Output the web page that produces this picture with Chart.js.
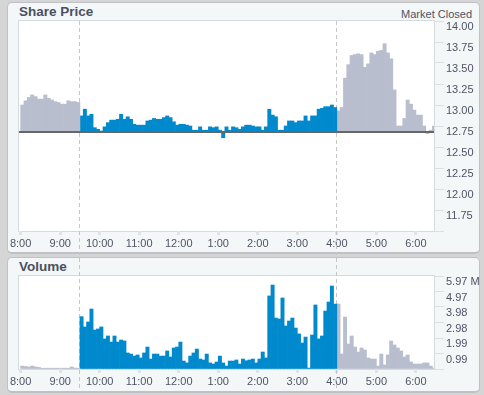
<!DOCTYPE html>
<html>
<head>
<meta charset="utf-8">
<script src="https://cdn.jsdelivr.net/npm/chart.js@4.4.1/dist/chart.umd.min.js"></script>
<style>
  body { margin: 0; width: 484px; height: 395px; overflow: hidden; background: #d5d5d5;
         font-family: "Liberation Sans", Arial, sans-serif; position: relative; }
  .panel { position: absolute; left: 7px; width: 473px; box-sizing: border-box;
           background: #f4f7f7; border: 1px solid #bec2c6; border-bottom-width: 2px; border-radius: 5px; }
  .title { position: absolute; left: 19px; font-weight: bold; font-size: 13.5px; line-height: 16px; color: #4a5064; }
  .status { position: absolute; right: 12px; top: 7px; font-size: 11px; line-height: 14px; color: #4d5366; }
  .box { position: absolute; left: 0; width: 484px; }
</style>
</head>
<body>
<div class="panel" style="top:2px;height:252px"></div>
<div class="panel" style="top:257px;height:136px"></div>
<div class="title" style="top:4px">Share Price</div>
<div class="status">Market Closed</div>
<div class="title" style="top:259px">Volume</div>
<div class="box" style="top:0;height:255px"><canvas id="price"></canvas></div>
<div class="box" style="top:255px;height:140px"><canvas id="volume"></canvas></div>
<script>
// 5 minute bars, 8:00 am to 6:25 pm (minutes after midnight)
const dayStart = 480;
const barMinutes = 5;
const prevClose = 12.68;
const sessionLines = [568, 958]; // open / close markers

const hourTicks = [480, 540, 600, 660, 720, 780, 840, 900, 960, 1020, 1080];
const hourLabels = ['8:00', '9:00', '10:00', '11:00', '12:00', '1:00', '2:00', '3:00', '4:00', '5:00', '6:00'];

const priceTicks = [14, 13.75, 13.5, 13.25, 13, 12.75, 12.5, 12.25, 12, 11.75, 11.5];
const priceLabels = ['14.00', '13.75', '13.50', '13.25', '13.00', '12.75', '12.50', '12.25', '12.00', '11.75', ''];

const volumeTicks = [5.97, 4.975, 3.98, 2.985, 1.99, 0.995, 0];
const volumeLabels = ['5.97 M', '4.97', '3.98', '2.98', '1.99', '0.99', ''];

// pre-market 8:00 - 9:25
const prePrice = [13.00, 13.05, 13.09, 13.12, 13.10, 13.07, 13.07, 13.12, 13.08, 13.06, 13.04, 13.03,
                  13.01, 13.01, 13.05, 13.04, 13.04, 13.03];
const preVolume = [0.19, 0.16, 0.13, 0.19, 0.13, 0.10, 0.05, 0.05, 0.05, 0.05, 0.05, 0.05,
                   0.05, 0.05, 0.05, 0.13, 0.06, 0.05];

// regular session 9:30 - 3:55
const sessionPrice = [
  12.87, 12.95, 12.87, 12.89, 12.73, 12.71, 12.69, 12.74, 12.79, 12.82, 12.82, 12.83,
  12.89, 12.83, 12.86, 12.83, 12.77, 12.76, 12.76, 12.76, 12.81, 12.82, 12.84, 12.83,
  12.83, 12.85, 12.87, 12.85, 12.80, 12.76, 12.77, 12.77, 12.76, 12.75, 12.70, 12.70,
  12.74, 12.70, 12.70, 12.74, 12.73, 12.74, 12.70, 12.61, 12.74, 12.70, 12.74, 12.73,
  12.71, 12.74, 12.76, 12.76, 12.75, 12.74, 12.74, 12.70, 12.74, 12.95, 12.88, 12.86,
  12.70, 12.70, 12.75, 12.81, 12.81, 12.79, 12.81, 12.81, 12.87, 12.81, 12.87, 12.87,
  12.95, 12.96, 12.98, 12.98, 13.00, 12.97];
const sessionVolume = [
  3.36, 2.70, 3.02, 3.85, 2.50, 2.57, 2.70, 1.93, 2.12, 1.73, 2.12, 1.73,
  1.86, 1.80, 1.03, 0.96, 0.83, 0.90, 0.71, 1.03, 1.41, 0.64, 0.96, 0.96,
  0.83, 0.83, 1.16, 0.77, 1.35, 1.41, 1.73, 0.51, 0.39, 0.83, 1.03, 1.28,
  0.64, 0.58, 0.96, 0.39, 0.32, 0.45, 0.83, 0.39, 0.19, 0.51, 0.51, 0.58,
  0.32, 0.64, 0.53, 0.58, 0.64, 0.39, 0.64, 1.09, 0.71, 4.69, 5.39, 3.27,
  3.21, 4.56, 2.76, 3.08, 3.27, 2.63, 2.25, 1.67, 2.05, 0.06, 2.18, 4.11,
  1.93, 2.12, 3.72, 4.30, 5.33, 4.17];

// after hours 4:00 - 6:25
const afterPrice = [12.93, 12.97, 13.32, 13.48, 13.59, 13.60, 13.61, 13.60, 13.45, 13.49, 13.62, 13.60,
                    13.64, 13.65, 13.73, 13.62, 13.55, 13.18, 12.75, 12.75, 12.84, 13.06, 13.01, 12.94,
                    12.88, 12.88, 12.75, 12.66, 12.70, 12.75];
const afterVolume = [4.17, 0.96, 3.34, 1.60, 2.12, 1.41, 1.09, 1.35, 1.22, 0.71, 0.64, 0.64,
                     0.19, 0.96, 0.26, 0.90, 1.80, 1.54, 1.35, 1.16, 0.77, 0.90, 0.45, 0.32,
                     0.32, 0.32, 0.39, 0.39, 0.19, 0.06];

const BLUE = '#0089cc';
const GRAY = '#b8bece';
const TEXT = '#4d5366';
const FONT = { family: "'Liberation Sans', Arial, sans-serif", size: 11 };
const xMin = 477.5, xMax = 1107.5;

// bar centre = slot start + half a slot
const toBars = (values, firstSlot, floating) => values.map((v, i) => ({
  x: dayStart + (firstSlot + i) * barMinutes + barMinutes / 2,
  y: floating ? [prevClose, v] : v
}));

const frame = {
  id: 'frame',
  beforeDraw(chart) {
    const { ctx, chartArea: a } = chart;
    ctx.save();
    ctx.fillStyle = '#fff';
    ctx.fillRect(a.left, a.top, a.width, a.height);
    ctx.strokeStyle = '#d3dae0';
    ctx.lineWidth = 1;
    ctx.strokeRect(Math.round(a.left) - 0.5, Math.round(a.top) - 0.5, Math.round(a.width) + 1, Math.round(a.height) + 1);
    ctx.restore();
  },
  beforeDatasetsDraw(chart, args, opts) {
    const { ctx, scales: { x } } = chart;
    ctx.save();
    ctx.strokeStyle = '#c6c6c6';
    ctx.lineWidth = 1;
    ctx.setLineDash([4, 3]);
    sessionLines.forEach(t => {
      const px = Math.round(x.getPixelForValue(t)) + 0.5;
      ctx.beginPath();
      ctx.moveTo(px, opts.top(chart));
      ctx.lineTo(px, opts.bottom(chart));
      ctx.stroke();
    });
    ctx.restore();
  }
};

const xAxis = (height) => ({
  type: 'linear', min: xMin, max: xMax, offset: false,
  afterBuildTicks: s => { s.ticks = hourTicks.map(v => ({ value: v })); },
  afterFit: s => { s.height = height; },
  grid: { drawOnChartArea: false, offset: false, tickLength: 4, tickWidth: 3, tickColor: '#dde3e9' },
  border: { display: false },
  ticks: { autoSkip: false, maxRotation: 0, padding: 2, color: TEXT, font: FONT,
           callback: (v, i) => hourLabels[i] }
});

const yAxis = (min, max, tickValues, labels) => ({
  position: 'right', min: min, max: max,
  afterBuildTicks: s => { s.ticks = tickValues.map(v => ({ value: v })); },
  afterFit: s => { s.width = 50; },
  grid: { drawOnChartArea: false, tickLength: 10, tickColor: '#d8dfe5' },
  border: { display: false },
  ticks: { autoSkip: false, padding: 2, labelOffset: 6, color: TEXT, font: FONT,
           callback: (v, i) => labels[i] }
});

const barStyle = { barPercentage: 1, categoryPercentage: 1, grouped: false, borderWidth: 0, order: 1 };

new Chart(document.getElementById('price'), {
  type: 'bar',
  data: {
    datasets: [
      { type: 'line', data: [{ x: xMin, y: prevClose }, { x: xMax, y: prevClose }],
        borderColor: '#666666', borderWidth: 2, pointRadius: 0, order: 0 },
      { data: toBars(prePrice, 0, true), backgroundColor: GRAY, ...barStyle },
      { data: toBars(sessionPrice, prePrice.length, true), backgroundColor: BLUE, ...barStyle },
      { data: toBars(afterPrice, prePrice.length + sessionPrice.length, true), backgroundColor: GRAY, ...barStyle }
    ]
  },
  options: {
    responsive: true, maintainAspectRatio: false, animation: false,
    layout: { padding: { left: 19, top: 21, right: 0, bottom: 0 } },
    scales: { x: xAxis(24), y: yAxis(11.5, 14, priceTicks, priceLabels) },
    plugins: {
      legend: { display: false }, tooltip: { enabled: false },
      frame: { top: c => c.chartArea.top, bottom: c => c.height }
    }
  },
  plugins: [frame]
});

new Chart(document.getElementById('volume'), {
  type: 'bar',
  data: {
    datasets: [
      { data: toBars(preVolume, 0, false), backgroundColor: GRAY, ...barStyle },
      { data: toBars(sessionVolume, preVolume.length, false), backgroundColor: BLUE, ...barStyle },
      { data: toBars(afterVolume, preVolume.length + sessionVolume.length, false), backgroundColor: GRAY, ...barStyle }
    ]
  },
  options: {
    responsive: true, maintainAspectRatio: false, animation: false,
    layout: { padding: { left: 19, top: 21, right: 0, bottom: 0 } },
    scales: { x: xAxis(26), y: yAxis(0, 5.97, volumeTicks, volumeLabels) },
    plugins: {
      legend: { display: false }, tooltip: { enabled: false },
      frame: { top: c => 3, bottom: c => c.height - 3 }
    }
  },
  plugins: [frame]
});
</script>
</body>
</html>
